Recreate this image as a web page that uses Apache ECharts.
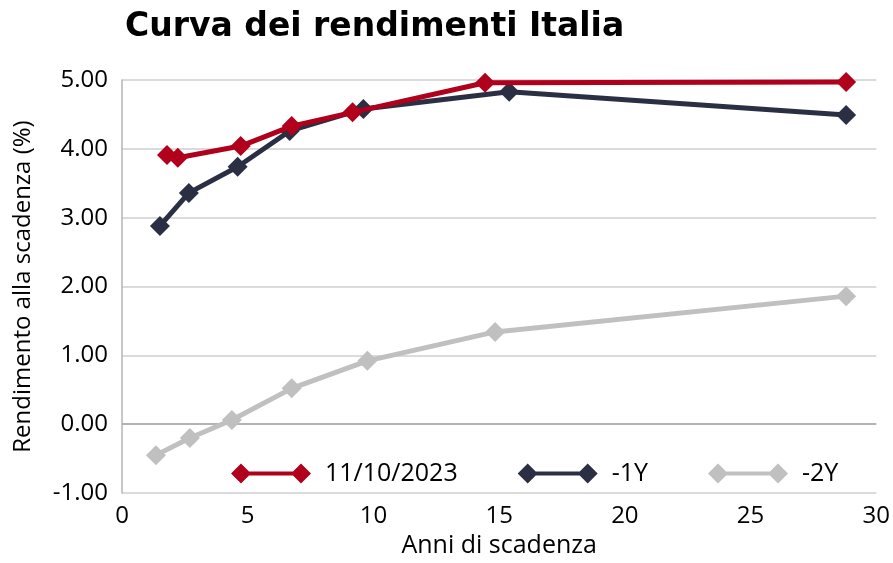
<!DOCTYPE html>
<html><head><meta charset="utf-8">
<script src="https://cdn.jsdelivr.net/npm/echarts@6/dist/echarts.min.js"></script>
<style>html,body{margin:0;padding:0;background:#fff}#c{width:893px;height:563px}</style>
</head><body><div id="c"></div>
<script>
const seriesNames = ['11/10/2023', '-1Y', '-2Y'];
const xNow = [1.79, 2.22, 4.72, 6.75, 9.17, 14.44, 28.8];
const yNow = [3.91, 3.87, 4.04, 4.33, 4.53, 4.96, 4.97];
const x1Y = [1.51, 2.66, 4.60, 6.67, 9.60, 15.40, 28.8];
const y1Y = [2.88, 3.36, 3.74, 4.26, 4.58, 4.83, 4.49];
const x2Y = [1.35, 2.70, 4.37, 6.75, 9.76, 14.84, 28.8];
const y2Y = [-0.45, -0.20, 0.06, 0.52, 0.92, 1.34, 1.86];
const colors = ['#b0001c', '#2b2f44', '#c0c0c0'];

const pair = (xs, ys) => xs.map((x, i) => [x, ys[i]]);
const font = '"Open Sans", "Noto Sans", sans-serif';
const legendIcon = 'path://M0 10L10 0L20 10L10 20ZM10 8L70 8L70 12L10 12ZM60 10L70 0L80 10L70 20Z';
const chart = echarts.init(document.getElementById('c'));
const mk = (i, xs, ys) => ({
  name: seriesNames[i], type: 'line', data: pair(xs, ys),
  symbol: 'diamond', symbolSize: 20,
  lineStyle: { width: 5, color: colors[i] },
  itemStyle: { color: colors[i] },
  z: 10 - i
});
const s0 = mk(0, xNow, yNow), s1 = mk(1, x1Y, y1Y), s2 = mk(2, x2Y, y2Y);
s2.markLine = { silent: true, symbol: 'none', label: { show: false },
  lineStyle: { color: '#a6a6a6', width: 1.5, type: 'solid' }, data: [{ yAxis: 0 }] };
chart.setOption({
  animation: false,
  title: { text: 'Curva dei rendimenti Italia', left: 120, top: 6,
    textStyle: { fontFamily: '"DejaVu Sans"', fontWeight: 'bold', fontSize: 33, color: '#000' } },
  grid: { left: 122, right: 15, top: 80, bottom: 70 },
  legend: {
    data: seriesNames.map(n => ({ name: n, icon: legendIcon })),
    top: 456, left: 226, itemWidth: 80, itemHeight: 20, itemGap: 60,
    textStyle: { fontFamily: font, fontSize: 25, color: '#000', padding: [0, 0, 0, 9] }
  },
  xAxis: {
    type: 'value', min: 0, max: 30, interval: 5,
    name: 'Anni di scadenza', nameLocation: 'middle', nameGap: 40,
    nameTextStyle: { fontFamily: font, fontSize: 25, color: '#000' },
    axisLine: { show: false }, axisTick: { show: false },
    splitLine: { show: false },
    axisLabel: { fontFamily: font, fontSize: 24, color: '#000', margin: 11 }
  },
  yAxis: {
    type: 'value', min: -1, max: 5, interval: 1,
    name: 'Rendimento alla scadenza (%)', nameLocation: 'middle', nameGap: 87,
    nameTextStyle: { fontFamily: font, fontSize: 24, color: '#000' },
    axisLine: { show: true, lineStyle: { color: '#b4b4b4', width: 1.5 } },
    axisTick: { show: false },
    splitLine: { lineStyle: { color: '#cfcfcf', width: 1.5 } },
    axisLabel: { fontFamily: font, fontSize: 24, color: '#000', margin: 14,
      formatter: v => v.toFixed(2) }
  },
  series: [s0, s1, s2]
});
</script></body></html>
